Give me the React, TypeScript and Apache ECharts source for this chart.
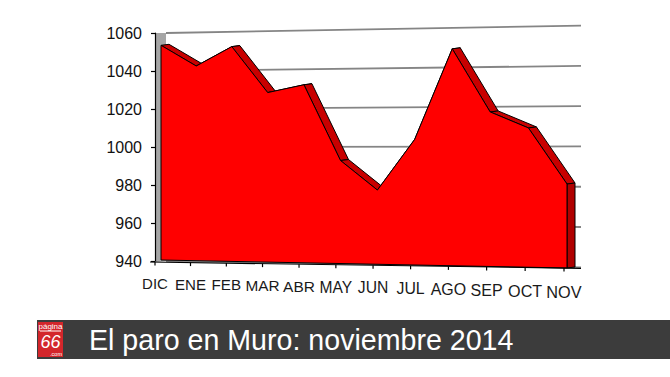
import React, { useEffect, useRef } from 'react';
import * as echarts from 'echarts';

const categories = ['DIC', 'ENE', 'FEB', 'MAR', 'ABR', 'MAY', 'JUN', 'JUL', 'AGO', 'SEP', 'OCT', 'NOV'];
const paro = [1053, 1042, 1052, 1028, 1032, 993, 978, 1004, 1050, 1018, 1010, 982];
const yTicks = [940, 960, 980, 1000, 1020, 1040, 1060];
const title = 'El paro en Muro: noviembre 2014';
const logoTop = 'página';
const logoMain = '66';
const logoBottom = '.com';

const FONT = '"Liberation Sans", Arial, Helvetica, sans-serif';

export default function App() {
  const ref = useRef<HTMLDivElement>(null);

  useEffect(() => {
    if (!ref.current) return;
    const chart = echarts.init(ref.current, null, { renderer: 'svg' });
    const yMin = yTicks[0];
    const yMax = yTicks[yTicks.length - 1];
    const n = categories.length;
    const dx = 8;
    const dy = -1;

    const renderItem = (params: any, api: any) => {
      if (params.dataIndex !== 0) return null;
      const o = api.coord([0, yMin]);
      const e = api.coord([n - 1, yMin]);
      const X0 = o[0];
      const W = e[0] - X0;
      const B0 = o[1];
      // perspective-like mapping of the library's coordinates
      const front = (i: number, v: number) => {
        const c = api.coord([i, v]);
        const t = (c[0] - X0) / W;
        return [X0 + W * (t - 0.05 * t * (1 - t)), B0 - 1 + 8 * t - (B0 - c[1]) * (1 + 0.0526 * t)];
      };
      const backLine = (v: number) => {
        const c = api.coord([0, v]);
        return [
          [X0 + 5, c[1]],
          [X0 + W + 14, B0 + 6.3 - (B0 - c[1]) * 1.06],
        ];
      };
      const children: any[] = [];
      const top = api.coord([0, yMax]);
      // left side wall
      children.push({
        type: 'polygon',
        shape: { points: [[X0 - 5.5, top[1]], [X0 + 5, top[1]], [X0 + 5, B0], [X0 - 5.5, B0 + 1]] },
        style: { fill: '#a6a6a6' },
      });
      // back wall grid lines
      yTicks.forEach((v) => {
        const [a, b] = backLine(v);
        children.push({
          type: 'line',
          shape: { x1: a[0], y1: a[1], x2: b[0], y2: b[1] },
          style: { stroke: '#858585', lineWidth: 1.8 },
        });
      });
      const pts = paro.map((v, i) => front(i, v));
      const bots = paro.map((_, i) => front(i, yMin));
      // extrusion top strips
      for (let i = 0; i < n - 1; i++) {
        const a = pts[i];
        const b = pts[i + 1];
        children.push({
          type: 'polygon',
          shape: { points: [a, b, [b[0] + dx, b[1] + dy], [a[0] + dx, a[1] + dy]] },
          style: { fill: '#c80000', stroke: '#000', lineWidth: 1, lineJoin: 'round' },
        });
      }
      // right face
      const l = pts[n - 1];
      const lb = bots[n - 1];
      children.push({
        type: 'polygon',
        shape: { points: [l, [l[0] + dx, l[1] + dy], [lb[0] + dx, lb[1] + dy], lb] },
        style: { fill: '#b00000', stroke: '#000', lineWidth: 1 },
      });
      // front face
      children.push({
        type: 'polygon',
        shape: { points: [...pts, lb, bots[0]] },
        style: { fill: '#ff0000', stroke: '#000', lineWidth: 1, lineJoin: 'round' },
      });
      // floor axis
      const ax1 = [bots[0][0] - 11, bots[0][1] + 2];
      const ax2 = [lb[0] + 14, lb[1] + 0.3];
      const lineY = (x: number) => ax1[1] + ((x - ax1[0]) / (ax2[0] - ax1[0])) * (ax2[1] - ax1[1]);
      children.push({
        type: 'line',
        shape: { x1: ax1[0], y1: ax1[1], x2: ax2[0], y2: ax2[1] },
        style: { stroke: '#000', lineWidth: 1.2 },
      });
      categories.forEach((c, i) => {
        const t = i / (n - 1);
        const x = bots[i][0] - 6 + 3 * t;
        const y = lineY(x);
        children.push({
          type: 'line',
          shape: { x1: x, y1: y, x2: x, y2: y + 3.5 },
          style: { stroke: '#000', lineWidth: 1.2 },
        });
        children.push({
          type: 'text',
          x,
          y: y + 21.5 + 2 * t,
          style: {
            text: c,
            fill: '#1a1a1a',
            fontSize: 15 + 1.3 * t,
            fontFamily: FONT,
            textAlign: 'center',
            textVerticalAlign: 'middle',
            align: 'center',
            verticalAlign: 'middle',
          },
        });
      });
      return { type: 'group', children };
    };

    chart.setOption({
      animation: false,
      grid: { left: 161, right: 103, top: 33, height: 228, containLabel: false },
      xAxis: { type: 'category', data: categories, boundaryGap: false, show: false },
      yAxis: {
        type: 'value',
        min: yMin,
        max: yMax,
        interval: 20,
        offset: 6,
        z: 10,
        axisLine: { show: true, lineStyle: { color: '#000', width: 1.2 } },
        axisTick: { show: true, length: 4, lineStyle: { color: '#000', width: 1.2 } },
        axisLabel: { color: '#111', fontSize: 16, fontFamily: FONT, margin: 13, formatter: (v: number) => String(v) },
        splitLine: { show: false },
      },
      series: [
        {
          type: 'custom',
          data: paro.map((v, i) => [i, v]),
          encode: { x: 0, y: 1 },
          renderItem,
          clip: false,
          silent: true,
        },
      ],
      graphic: [
        { type: 'rect', shape: { x: 37, y: 320, width: 633, height: 39 }, style: { fill: '#3c3c3c' } },
        { type: 'rect', shape: { x: 38, y: 322, width: 25, height: 35 }, style: { fill: '#d3262b' } },
        {
          type: 'text',
          x: 50.5,
          y: 326,
          style: { text: logoTop, fill: '#fff', fontSize: 8, fontFamily: FONT, align: 'center', verticalAlign: 'middle', textAlign: 'center', textVerticalAlign: 'middle' },
        },
        { type: 'line', shape: { x1: 40, y1: 331, x2: 61, y2: 331 }, style: { stroke: '#fff', lineWidth: 1 } },
        {
          type: 'text',
          x: 50.5,
          y: 341.5,
          style: { text: logoMain, fill: '#fff', fontSize: 18, fontStyle: 'italic', fontFamily: FONT, align: 'center', verticalAlign: 'middle', textAlign: 'center', textVerticalAlign: 'middle' },
        },
        {
          type: 'text',
          x: 56,
          y: 354,
          style: { text: logoBottom, fill: '#fff', fontSize: 5.5, fontFamily: FONT, align: 'center', verticalAlign: 'middle', textAlign: 'center', textVerticalAlign: 'middle' },
        },
        {
          type: 'text',
          x: 89,
          y: 340,
          style: { text: title, fill: '#fff', fontSize: 28.6, fontFamily: FONT, align: 'left', verticalAlign: 'middle', textAlign: 'left', textVerticalAlign: 'middle' },
        },
      ],
    });
    return () => chart.dispose();
  }, []);

  return <div ref={ref} style={{ position: 'absolute', left: 0, top: 0, width: 670, height: 377, background: '#fff' }} />;
}
